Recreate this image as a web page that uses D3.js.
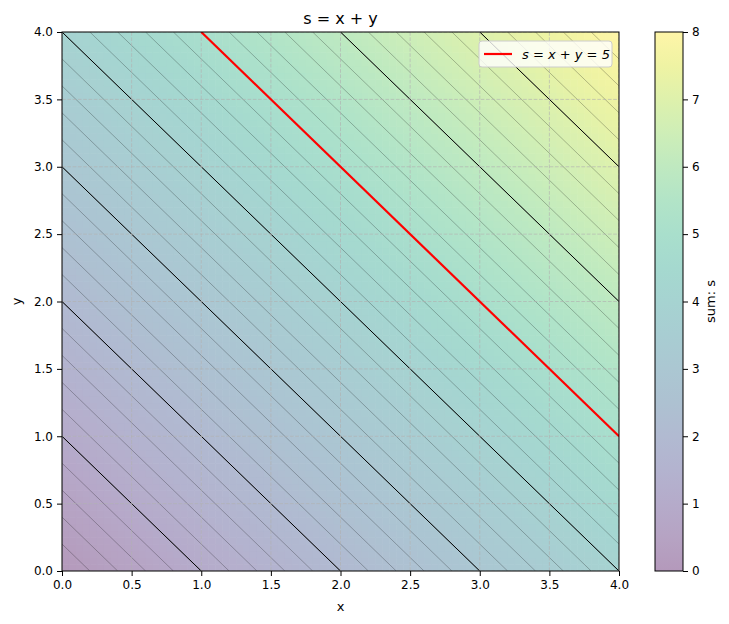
<!DOCTYPE html>
<html><head><meta charset="utf-8">
<script src="https://cdn.jsdelivr.net/npm/d3@7"></script>
<style>body{margin:0;background:#fff}text{font-family:"DejaVu Sans",sans-serif}</style>
</head><body>
<script>
var xTicks = [0, 0.5, 1, 1.5, 2, 2.5, 3, 3.5, 4];
var yTicks = [0, 0.5, 1, 1.5, 2, 2.5, 3, 3.5, 4];
var cbTicks = [0, 1, 2, 3, 4, 5, 6, 7, 8];
var majorLevels = [1, 2, 3, 4, 6, 7];
var minorLevels = d3.range(1, 40).map(function(i) { return i / 5; });
var redLevel = 5;

var W = 729, H = 624;
var L = 62, R = 619, T = 32, B = 571;
var svg = d3.select("body").append("svg").attr("width", W).attr("height", H);
var x = d3.scaleLinear().domain([0, 4]).range([L, R]);
var y = d3.scaleLinear().domain([0, 4]).range([B, T]);
var col = function(s) {
	var c = d3.rgb(d3.interpolateViridis(s / 8));
	var a = 0.4;
	return d3.rgb(c.r * a + 255 * (1 - a), c.g * a + 255 * (1 - a), c.b * a + 255 * (1 - a));
};

var defs = svg.append("defs");
defs.append("clipPath").attr("id", "clip").append("rect")
	.attr("x", L).attr("y", T).attr("width", R - L).attr("height", B - T);

// background field
var n = 80, step = 4 / n;
var cells = [];
for (var i = 0; i < n; i++) for (var j = 0; j < n; j++) cells.push([i * step, j * step]);
var g = svg.append("g").attr("clip-path", "url(#clip)");
g.selectAll("rect.c").data(cells).enter().append("rect")
	.attr("x", function(d) { return x(d[0]); })
	.attr("y", function(d) { return y(d[1] + step); })
	.attr("width", x(step) - x(0) + 0.6)
	.attr("height", y(0) - y(step) + 0.6)
	.attr("fill", function(d) { return col(d[0] + d[1] + step); });

function seg(s) {
	return [[Math.max(0, s - 4), Math.min(4, s)], [Math.min(4, s), Math.max(0, s - 4)]];
}
var line = d3.line().x(function(d) { return x(d[0]); }).y(function(d) { return y(d[1]); });

g.selectAll("path.minor").data(minorLevels).enter().append("path")
	.attr("d", function(s) { return line(seg(s)); })
	.attr("stroke", "#000").attr("stroke-opacity", 0.5).attr("stroke-width", 0.5).attr("fill", "none");
g.selectAll("path.major").data(majorLevels).enter().append("path")
	.attr("d", function(s) { return line(seg(s)); })
	.attr("stroke", "#000").attr("stroke-width", 1).attr("fill", "none");

// grid
g.selectAll("line.gx").data(xTicks).enter().append("line")
	.attr("x1", function(d) { return x(d); }).attr("x2", function(d) { return x(d); })
	.attr("y1", T).attr("y2", B)
	.attr("stroke", "#b0b0b0").attr("stroke-opacity", 0.8).attr("stroke-dasharray", "3.7,1.6").attr("stroke-width", 0.8);
g.selectAll("line.gy").data(yTicks).enter().append("line")
	.attr("y1", function(d) { return y(d); }).attr("y2", function(d) { return y(d); })
	.attr("x1", L).attr("x2", R)
	.attr("stroke", "#b0b0b0").attr("stroke-opacity", 0.8).attr("stroke-dasharray", "3.7,1.6").attr("stroke-width", 0.8);

g.append("path").attr("d", line(seg(redLevel)))
	.attr("stroke", "red").attr("stroke-width", 2.2).attr("fill", "none");

// axes
var fmt = d3.format(".1f");
function styleAxis(a) {
	a.selectAll("text").attr("font-size", 12).attr("fill", "#000");
	a.selectAll("line").attr("stroke", "#000");
	a.select(".domain").remove();
}
svg.append("g").attr("transform", "translate(0," + B + ")")
	.call(d3.axisBottom(x).tickValues(xTicks).tickFormat(fmt).tickSizeOuter(0).tickSize(5).tickPadding(4))
	.call(styleAxis);
svg.append("g").attr("transform", "translate(" + L + ",0)")
	.call(d3.axisLeft(y).tickValues(yTicks).tickFormat(fmt).tickSizeOuter(0).tickSize(5).tickPadding(4))
	.call(styleAxis);
svg.append("rect").attr("x", L).attr("y", T).attr("width", R - L).attr("height", B - T)
	.attr("fill", "none").attr("stroke", "#000").attr("stroke-width", 1);

svg.append("text").attr("x", (L + R) / 2).attr("y", 24).attr("text-anchor", "middle").attr("font-size", 16).text("s = x + y");
svg.append("text").attr("x", (L + R) / 2).attr("y", 611).attr("text-anchor", "middle").attr("font-size", 13).text("x");
svg.append("text").attr("transform", "translate(21," + (T + B) / 2 + ") rotate(-90)").attr("text-anchor", "middle").attr("font-size", 13).text("y");

// legend
var lg = svg.append("g").attr("transform", "translate(479,41)");
lg.append("rect").attr("width", 133).attr("height", 26).attr("rx", 3)
	.attr("fill", "#fff").attr("fill-opacity", 0.8).attr("stroke", "#ccc");
lg.append("line").attr("x1", 5).attr("x2", 33).attr("y1", 13).attr("y2", 13).attr("stroke", "red").attr("stroke-width", 2.2);
lg.append("text").attr("x", 43).attr("y", 17.5).attr("font-size", 13).attr("font-style", "italic").text("s = x + y = 5");

// colorbar
var cx0 = 655, cw = 28;
var cy = d3.scaleLinear().domain([0, 8]).range([B, T]);
var grad = defs.append("linearGradient").attr("id", "cb").attr("x1", 0).attr("y1", 1).attr("x2", 0).attr("y2", 0);
grad.selectAll("stop").data(d3.range(0, 8.01, 0.5)).enter().append("stop")
	.attr("offset", function(d) { return d / 8; }).attr("stop-color", function(d) { return col(d); });
svg.append("rect").attr("x", cx0).attr("y", T).attr("width", cw).attr("height", B - T)
	.attr("fill", "url(#cb)").attr("stroke", "#000").attr("stroke-width", 1);
svg.append("g").attr("transform", "translate(" + (cx0 + cw) + ",0)")
	.call(d3.axisRight(cy).tickValues(cbTicks).tickFormat(d3.format("d")).tickSizeOuter(0).tickSize(5).tickPadding(4))
	.call(styleAxis);
svg.append("text").attr("transform", "translate(715," + (T + B) / 2 + ") rotate(-90)").attr("text-anchor", "middle").attr("font-size", 13).text("sum: s");
</script>
</body></html>
